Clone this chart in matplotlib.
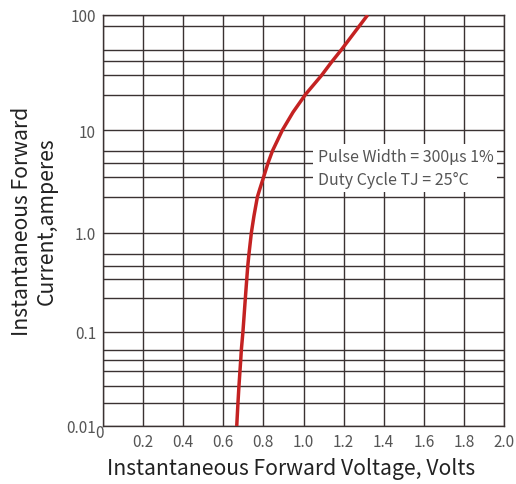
import numpy as np
import matplotlib.pyplot as plt
import matplotlib.transforms as mtransforms

plt.rcParams['font.family'] = ['Noto Sans CJK SC', 'DejaVu Sans']

# forward characteristic (volts, amperes)
volts = [0.667, 0.673, 0.678, 0.683, 0.687, 0.690, 0.698, 0.710, 0.717,
         0.722, 0.728, 0.740, 0.753, 0.770, 0.782, 0.801, 0.823, 0.845,
         0.895, 0.948, 1.011, 1.089, 1.139, 1.189, 1.320]
amps = [0.01, 0.0174, 0.0264, 0.038, 0.0505, 0.0644, 0.1, 0.219, 0.34,
        0.46, 0.61, 1.0, 1.46, 2.23, 2.66, 3.48, 4.77, 6.25,
        10, 14.3, 20.5, 29.7, 38.8, 49.9, 100]

x_ticks = [0, 0.2, 0.4, 0.6, 0.8, 1.0, 1.2, 1.4, 1.6, 1.8, 2.0]
x_labels = ['0', '0.2', '0.4', '0.6', '0.8', '1.0', '1.2', '1.4', '1.6', '1.8', '2.0']
y_ticks = [0.01, 0.1, 1, 10, 100]
y_labels = ['0.01', '0.1', '1.0', '10', '100']
# horizontal rules of the printed grid (not evenly spaced in the source)
y_rules = [0.0174, 0.0264, 0.038, 0.0505, 0.0644,
           0.219, 0.34, 0.46, 0.61,
           2.23, 3.48, 4.77, 6.25,
           20, 30, 40, 50, 80]

# decade positions of the printed chart are not equal, follow them
dec_log = [-2, -1, 0, 1, 2]
dec_pos = [0, 94.3, 193.3, 296, 411]


def fwd(y):
    y = np.clip(np.asarray(y, dtype=float), 1e-6, None)
    return np.interp(np.log10(y), dec_log, dec_pos, left=-1000, right=2000)


def inv(p):
    return 10 ** np.interp(p, dec_pos, dec_log)


grid_col = '#3a3232'

fig = plt.figure(figsize=(5.16, 4.85), dpi=100)
ax = fig.add_axes([103 / 516, 1 - 427 / 485, 401 / 516, 411 / 485])
ax.set_yscale('function', functions=(fwd, inv))
ax.set_xlim(0, 2.0)
ax.set_ylim(0.01, 100)

for xv in x_ticks:
    ax.axvline(xv, color=grid_col, lw=1.0, zorder=1)
for yv in y_ticks + y_rules:
    ax.axhline(yv, color=grid_col, lw=1.0, zorder=1)
for sp in ax.spines.values():
    sp.set_color(grid_col)
    sp.set_linewidth(1.0)

ax.plot(volts, amps, color='#c42222', lw=2.5, zorder=3, solid_capstyle='butt')

ax.set_xticks(x_ticks)
ax.set_xticklabels(x_labels)
ax.set_yticks(y_ticks)
ax.set_yticklabels(y_labels)
ax.minorticks_off()
ax.tick_params(length=0, labelsize=11, labelcolor='#555555')
ax.tick_params(axis='x', pad=5)
ax.tick_params(axis='y', pad=5)

# the "0" of the x axis sits a bit higher and left in the source
lab0 = ax.get_xticklabels()[0]
lab0.set_transform(lab0.get_transform() +
                   mtransforms.ScaledTranslation(-4 / 100, 9 / 100, fig.dpi_scale_trans))

ax.set_xlabel('Instantaneous Forward Voltage, Volts', fontsize=15.2,
              color='#222222', labelpad=6)
ax.xaxis.set_label_coords(0.47, -0.075)
ax.set_ylabel('Instantaneous Forward\nCurrent,amperes', fontsize=15.2,
              color='#222222', labelpad=6, linespacing=1.2)

ax.text(1.07, 4.3, 'Pulse Width = 300\u03bcs 1%\nDuty Cycle TJ = 25\u00b0C',
        fontsize=11.5, color='#555555', va='center', ha='left', linespacing=1.45,
        zorder=2,
        bbox=dict(facecolor='white', edgecolor='none', pad=3))

fig.savefig('out.png', dpi=100)
